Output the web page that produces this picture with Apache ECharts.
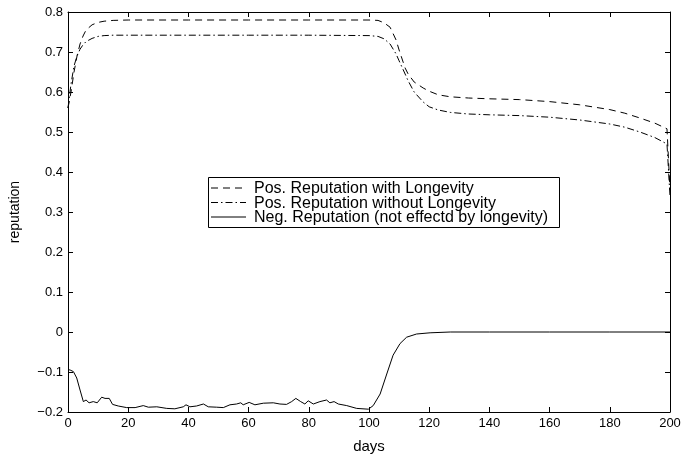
<!DOCTYPE html>
<html>
<head>
<meta charset="UTF-8">
<title>reputation</title>
<script src="https://cdn.jsdelivr.net/npm/echarts@6/dist/echarts.min.js"></script>
<style>
  html, body { margin: 0; padding: 0; background: #fff; }
</style>
</head>
<body>
<div id="main" style="width: 682px; height: 456px;"></div>
<script type="text/javascript">
// data
var seriesNames = ['Pos. Reputation with Longevity', 'Pos. Reputation without Longevity', 'Neg. Reputation (not effectd by longevity)'];

var posDays = [0, 1, 2, 3, 4, 5, 6, 8, 10, 12, 15, 20, 40, 60, 80, 100, 103, 105, 107, 109, 110, 112, 113, 115, 118, 120, 123, 127, 133, 140, 150, 160, 170, 180, 185, 190, 195, 199, 200];
var posLongVals = [0.56, 0.6, 0.65, 0.69, 0.72, 0.74, 0.755, 0.768, 0.774, 0.777, 0.779, 0.78, 0.78, 0.78, 0.78, 0.78, 0.779, 0.773, 0.762, 0.73, 0.705, 0.66, 0.645, 0.625, 0.61, 0.602, 0.593, 0.588, 0.585, 0.583, 0.581, 0.576, 0.568, 0.556, 0.547, 0.535, 0.522, 0.508, 0.355];
var posNoLongVals = [0.56, 0.62, 0.665, 0.69, 0.707, 0.718, 0.726, 0.734, 0.739, 0.741, 0.742, 0.742, 0.742, 0.742, 0.742, 0.741, 0.739, 0.733, 0.72, 0.695, 0.678, 0.645, 0.628, 0.6, 0.575, 0.563, 0.555, 0.549, 0.545, 0.543, 0.541, 0.537, 0.53, 0.52, 0.512, 0.5, 0.486, 0.47, 0.34];

var negDays = [0, 0.7, 1.8, 2.9, 4, 5.1, 6, 7, 8.4, 9.7, 11.2, 12.3, 13.7, 14.8, 16.7, 19.5, 22.3, 25, 26.7, 29.5, 32.8, 35.5, 38.3, 39.2, 40.5, 42.7, 45, 46.6, 49.4, 51.6, 53.8, 56, 57.4, 58.2, 60.2, 62.1, 64.9, 68.2, 70.4, 72.6, 74.3, 75.7, 77.3, 78.7, 79.8, 81.5, 83.7, 85.9, 87, 88.4, 89.8, 92.6, 95.9, 99.8, 101.4, 103.7, 105.9, 108, 110.3, 112.5, 115.8, 120.3, 127, 140, 160, 180, 200];
var negVals = [-0.094, -0.095, -0.099, -0.115, -0.145, -0.174, -0.17, -0.177, -0.174, -0.177, -0.163, -0.166, -0.166, -0.181, -0.185, -0.189, -0.189, -0.184, -0.188, -0.187, -0.191, -0.192, -0.187, -0.182, -0.187, -0.185, -0.18, -0.187, -0.188, -0.189, -0.182, -0.18, -0.177, -0.182, -0.176, -0.182, -0.178, -0.177, -0.18, -0.181, -0.174, -0.166, -0.174, -0.18, -0.172, -0.18, -0.174, -0.17, -0.177, -0.174, -0.18, -0.184, -0.191, -0.193, -0.184, -0.155, -0.105, -0.058, -0.029, -0.013, -0.005, -0.002, 0, 0, 0, 0, 0];

function pairs(xs, ys) {
  var out = [];
  for (var i = 0; i < xs.length; i++) out.push([xs[i], ys[i]]);
  return out;
}

var font = 'Liberation Sans, Arial, Helvetica, sans-serif';
var dashes = [[7, 5], [7, 3, 1.5, 3], null];

function fmtY(v) {
  var r = Math.round(v * 10) / 10;
  if (r === 0) return '0';
  return r < 0 ? '\u2212' + (-r).toFixed(1) : r.toFixed(1);
}

// legend drawn by hand (box, line samples, labels) so the dash patterns show
var legendEls = [{
  type: 'rect', z: 10,
  shape: { x: 208.5, y: 177.5, width: 351, height: 50 },
  style: { fill: '#fff', stroke: '#000', lineWidth: 1 }
}];
for (var k = 0; k < 3; k++) {
  var yy = 188 + k * 14.5;
  legendEls.push({
    type: 'line', z: 11,
    shape: { x1: 211, y1: yy, x2: 246, y2: yy },
    style: { stroke: '#000', lineWidth: 1, lineDash: dashes[k] }
  });
  legendEls.push({
    type: 'text', z: 11, x: 254, y: yy + 1,
    style: { text: seriesNames[k], fill: '#000', font: '16px ' + font, verticalAlign: 'middle' }
  });
}

var tickStyle = { inside: true, length: 5, lineStyle: { color: '#000', width: 1 } };
var lineAx = { show: true, onZero: false, lineStyle: { color: '#000', width: 1 } };

var myChart = echarts.init(document.getElementById('main'));
var option = {
  animation: false,
  backgroundColor: '#fff',
  grid: { left: 68, right: 12, top: 12, bottom: 44, containLabel: false, outerBoundsMode: 'none' },
  graphic: legendEls,
  xAxis: [{
    type: 'value', min: 0, max: 200, interval: 20,
    name: 'days', nameLocation: 'middle', nameGap: 27,
    nameTextStyle: { fontFamily: font, fontSize: 15, color: '#000' },
    axisLine: lineAx, axisTick: tickStyle,
    axisLabel: { fontFamily: font, fontSize: 13, color: '#000', margin: 5 },
    splitLine: { show: false }
  }, {
    type: 'value', min: 0, max: 200, interval: 20, position: 'top',
    axisLine: lineAx, axisTick: tickStyle,
    axisLabel: { show: false }, splitLine: { show: false }
  }],
  yAxis: [{
    type: 'value', min: -0.2, max: 0.8, interval: 0.1,
    name: 'reputation', nameLocation: 'middle', nameGap: 46, nameRotate: 90,
    nameTextStyle: { fontFamily: font, fontSize: 14, color: '#000' },
    axisLine: lineAx, axisTick: tickStyle,
    axisLabel: { fontFamily: font, fontSize: 13, color: '#000', margin: 5, formatter: fmtY },
    splitLine: { show: false }
  }, {
    type: 'value', min: -0.2, max: 0.8, interval: 0.1, position: 'right',
    axisLine: lineAx, axisTick: tickStyle,
    axisLabel: { show: false }, splitLine: { show: false }
  }],
  series: [{
    name: seriesNames[0], type: 'line', symbol: 'none', z: 3,
    lineStyle: { color: '#000', width: 1, type: dashes[0] },
    data: pairs(posDays, posLongVals)
  }, {
    name: seriesNames[1], type: 'line', symbol: 'none', z: 3,
    lineStyle: { color: '#000', width: 1, type: dashes[1] },
    data: pairs(posDays, posNoLongVals)
  }, {
    name: seriesNames[2], type: 'line', symbol: 'none', z: 3,
    lineStyle: { color: '#000', width: 1 },
    data: pairs(negDays, negVals)
  }]
};
myChart.setOption(option);
</script>
</body>
</html>
